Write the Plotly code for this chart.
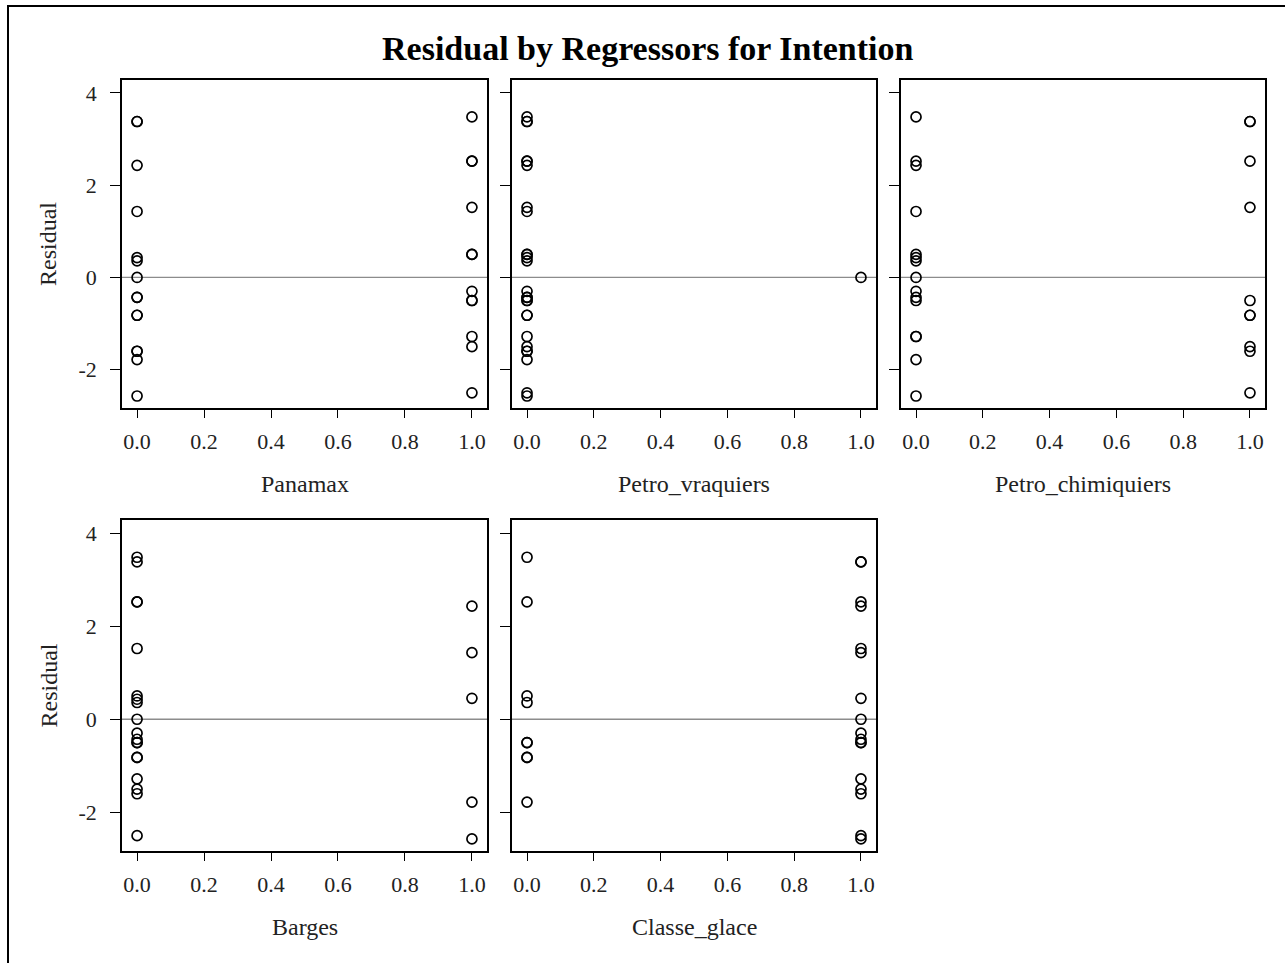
import plotly.graph_objects as go

# ---- data: residuals at regressor value 0 and 1 ----
regressors = ["Panamax", "Petro_vraquiers", "Petro_chimiquiers", "Barges", "Classe_glace"]

panamax_0 = [3.38, 3.38, 2.43, 1.43, 0.43, 0.36, 0.0, -0.43, -0.43, -0.82, -0.82, -1.6, -1.6, -1.78, -2.57]
panamax_1 = [3.48, 2.52, 2.52, 1.52, 0.5, 0.5, -0.3, -0.5, -0.5, -1.28, -1.5, -2.5]

vraquiers_0 = [3.48, 3.38, 3.38, 2.52, 2.52, 2.43, 1.52, 1.43, 0.5, 0.5, 0.43, 0.36, -0.3, -0.43, -0.43,
               -0.5, -0.5, -0.82, -0.82, -1.28, -1.5, -1.6, -1.6, -1.78, -2.5, -2.57]
vraquiers_1 = [0.0]

chimiquiers_0 = [3.48, 2.52, 2.43, 1.43, 0.5, 0.43, 0.36, 0.0, -0.3, -0.43, -0.5, -1.28, -1.28, -1.78, -2.57]
chimiquiers_1 = [3.38, 3.38, 2.52, 1.52, -0.5, -0.82, -0.82, -1.5, -1.6, -2.5]

barges_0 = [3.48, 3.38, 2.52, 2.52, 1.52, 0.5, 0.43, 0.36, 0.0, -0.3, -0.43, -0.5, -0.5, -0.82, -0.82,
            -1.28, -1.5, -1.6, -2.5]
barges_1 = [2.43, 1.43, 0.45, -1.78, -2.57]

glace_0 = [3.48, 2.52, 0.5, 0.36, -0.5, -0.5, -0.82, -0.82, -1.78]
glace_1 = [3.38, 3.38, 2.52, 2.43, 1.52, 1.43, 0.45, 0.0, -0.3, -0.43, -0.5, -0.5, -1.28, -1.5, -1.6,
           -2.5, -2.57]

resid_0 = [panamax_0, vraquiers_0, chimiquiers_0, barges_0, glace_0]
resid_1 = [panamax_1, vraquiers_1, chimiquiers_1, barges_1, glace_1]

x_ticks = [0.0, 0.2, 0.4, 0.6, 0.8, 1.0]
y_ticks = [-2, 0, 2, 4]
y_ticktext = ["-2", "0", "2", "4"]

# ---- layout geometry (pixels) ----
W, H = 1285, 963
col_px = [(122, 487), (512, 876), (901, 1265)]
row_px = [(80, 408), (520, 851)]
FONT = "Liberation Serif"
TICK_SIZE = 22
LABEL_SIZE = 24
TITLE_SIZE = 34

def px_x(p):
    return p / W

def px_y(p):
    return 1 - p / H

fig = go.Figure()
layout_axes = {}
annotations = []
shapes = []

for i, name in enumerate(regressors):
    r, c = divmod(i, 3)
    idx = i + 1
    xa = "x" if idx == 1 else f"x{idx}"
    ya = "y" if idx == 1 else f"y{idx}"
    xs = [0.0] * len(resid_0[i]) + [1.0] * len(resid_1[i])
    ys = resid_0[i] + resid_1[i]
    fig.add_trace(go.Scatter(
        x=xs, y=ys, mode="markers", xaxis=xa, yaxis=ya, showlegend=False,
        marker=dict(symbol="circle-open", size=10, color="black",
                    line=dict(width=1.7, color="black")),
    ))
    x0, x1 = col_px[c]
    y0, y1 = row_px[r]
    axkey = "xaxis" if idx == 1 else f"xaxis{idx}"
    aykey = "yaxis" if idx == 1 else f"yaxis{idx}"
    layout_axes[axkey] = dict(
        domain=[px_x(x0), px_x(x1)], anchor=ya, range=[-0.045, 1.045],
        tickvals=x_ticks, tickformat=".1f", ticks="outside", ticklen=8, tickwidth=1.2,
        tickcolor="black", showline=True, mirror=True, linecolor="black", linewidth=1.5,
        showgrid=False, zeroline=False, ticklabelstandoff=5,
        tickfont=dict(family=FONT, size=TICK_SIZE, color="#222"),
    )
    layout_axes[aykey] = dict(
        domain=[px_y(y1), px_y(y0)], anchor=xa, range=[-2.83, 4.28],
        tickvals=y_ticks, ticktext=y_ticktext, ticks="outside", ticklen=10, tickwidth=1.2,
        tickcolor="black", showline=True, mirror=True, linecolor="black", linewidth=1.5,
        showgrid=False, zeroline=False, showticklabels=(c == 0), ticklabelstandoff=9,
        tickfont=dict(family=FONT, size=TICK_SIZE, color="#222"),
    )
    # reference line at zero
    shapes.append(dict(type="line", xref=f"{xa} domain", yref=ya, x0=0, x1=1, y0=0, y1=0,
                       line=dict(color="#8c8c8c", width=1.3), layer="below"))
    # x axis title
    annotations.append(dict(text=name, xref="paper", yref="paper",
                            x=px_x((x0 + x1) / 2), y=px_y(y1 + 76),
                            showarrow=False, xanchor="center", yanchor="middle",
                            font=dict(family=FONT, size=LABEL_SIZE, color="#222")))
    if c == 0:
        annotations.append(dict(text="Residual", xref="paper", yref="paper",
                                x=px_x(48), y=px_y((y0 + y1) / 2), textangle=-90,
                                showarrow=False, xanchor="center", yanchor="middle",
                                font=dict(family=FONT, size=LABEL_SIZE, color="#222")))

annotations.append(dict(text="<b>Residual by Regressors for Intention</b>", xref="paper", yref="paper",
                        x=px_x(648), y=px_y(48), showarrow=False, xanchor="center", yanchor="middle",
                        font=dict(family=FONT, size=TITLE_SIZE, color="black")))

# outer border
shapes.append(dict(type="rect", xref="paper", yref="paper",
                   x0=px_x(8), x1=px_x(1290), y0=px_y(968), y1=px_y(6),
                   line=dict(color="black", width=2), fillcolor="rgba(0,0,0,0)"))

fig.update_layout(
    width=W, height=H, margin=dict(l=0, r=0, t=0, b=0),
    paper_bgcolor="white", plot_bgcolor="white",
    annotations=annotations, shapes=shapes, **layout_axes,
)

fig.write_html("out.html", config={"displayModeBar": False},
               post_script="document.body.style.margin='0px';")
